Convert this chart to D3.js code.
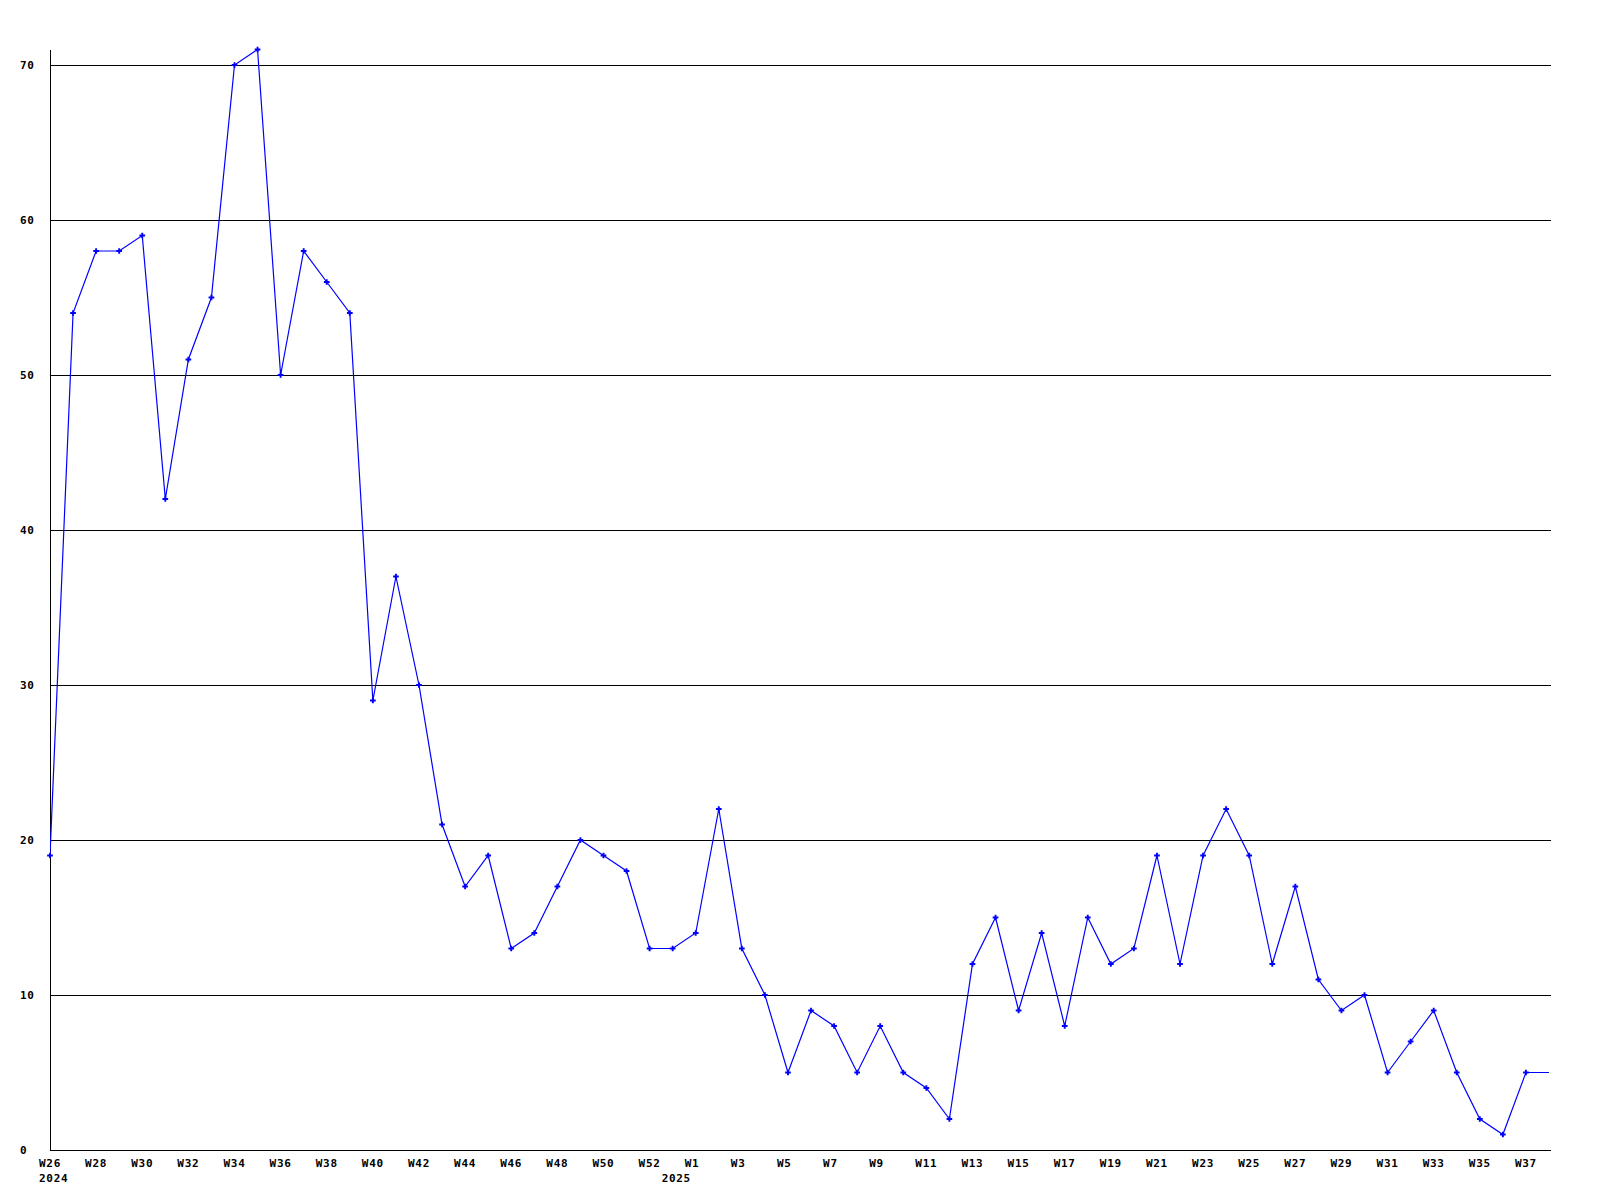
<!DOCTYPE html>
<meta charset="utf-8">

<style>
    body { margin: 0; background: #fff; }
    text {
        font-family: "DejaVu Sans Mono", monospace;
        font-weight: bold;
        font-size: 11px;
        letter-spacing: 0.7px;
        fill: #000;
    }
    .grid line { stroke: #000; stroke-width: 1px; shape-rendering: crispEdges; }
    .series { fill: none; stroke: #0000ff; stroke-width: 1.2px; }
    .marker { fill: #0000ff; }
</style>

<svg width="1600" height="1200"></svg>

<script src="https://d3js.org/d3.v7.min.js"></script>

<script>

    // weeks 26..52 of 2024, one partial week at the year change, weeks 1..38 of 2025
    var weeks = [];
    for (var w = 26; w <= 52; w++) weeks.push("W" + w);
    weeks.push("W53");
    for (var w2 = 1; w2 <= 38; w2++) weeks.push("W" + w2);

    var counts = [19, 54, 58, 58, 59, 42, 51, 55, 70, 71,
                  50, 58, 56, 54, 29, 37, 30, 21, 17, 19,
                  13, 14, 17, 20, 19, 18, 13, 13, 14, 22,
                  13, 10, 5, 9, 8, 5, 8, 5, 4, 2,
                  12, 15, 9, 14, 8, 15, 12, 13, 19, 12,
                  19, 22, 19, 12, 17, 11, 9, 10, 5, 7,
                  9, 5, 2, 1, 5, 5];

    var yearLabels = [{index: 0, text: "2024"}, {index: 27, text: "2025"}];
    var yTicks = [0, 10, 20, 30, 40, 50, 60, 70];

    var svg = d3.select("svg");

    var x = d3.scaleLinear().domain([0, weeks.length - 1]).range([50, 1549]);
    var y = d3.scaleLinear().domain([0, 70]).range([1150, 65]);
    var right = 1551;

    // horizontal grid
    var grid = svg.append("g").attr("class", "grid");
    grid.selectAll("line.h")
        .data(yTicks)
        .enter().append("line")
        .attr("x1", 50).attr("x2", right)
        .attr("y1", function (d) { return Math.round(y(d)) + 0.5; })
        .attr("y2", function (d) { return Math.round(y(d)) + 0.5; });

    // left axis line
    grid.append("line")
        .attr("x1", 50.5).attr("x2", 50.5)
        .attr("y1", Math.round(y(71))).attr("y2", 1150);

    // y labels
    svg.append("g").selectAll("text")
        .data(yTicks)
        .enter().append("text")
        .attr("x", 20)
        .attr("y", function (d) { return y(d); })
        .attr("dy", "0.35em")
        .text(function (d) { return d; });

    // x labels every other week
    svg.append("g").selectAll("text")
        .data(weeks.map(function (d, i) { return {w: d, i: i}; })
            .filter(function (d) { return d.i % 2 === 0 && d.i < weeks.length - 1; }))
        .enter().append("text")
        .attr("x", function (d) { return x(d.i) - 11; })
        .attr("y", 1163)
        .attr("dy", "0.35em")
        .text(function (d) { return d.w; });

    svg.append("g").selectAll("text")
        .data(yearLabels)
        .enter().append("text")
        .attr("x", function (d) { return x(d.index) - 11; })
        .attr("y", 1178)
        .attr("dy", "0.35em")
        .text(function (d) { return d.text; });

    // series line, clipped at the right edge
    svg.append("clipPath").attr("id", "plot")
        .append("rect").attr("x", 50).attr("y", 0).attr("width", right - 50).attr("height", 1151);

    var line = d3.line()
        .x(function (d, i) { return x(i); })
        .y(function (d) { return y(d); });

    svg.append("path")
        .datum(counts)
        .attr("class", "series")
        .attr("clip-path", "url(#plot)")
        .attr("d", line);

    // markers (the last partial week has none)
    svg.append("g").selectAll("path")
        .data(counts.slice(0, counts.length - 1))
        .enter().append("path")
        .attr("class", "marker")
        .attr("transform", function (d, i) { return "translate(" + x(i) + "," + y(d) + ")"; })
        .attr("d", d3.symbol(d3.symbolCross, 18));

</script>
